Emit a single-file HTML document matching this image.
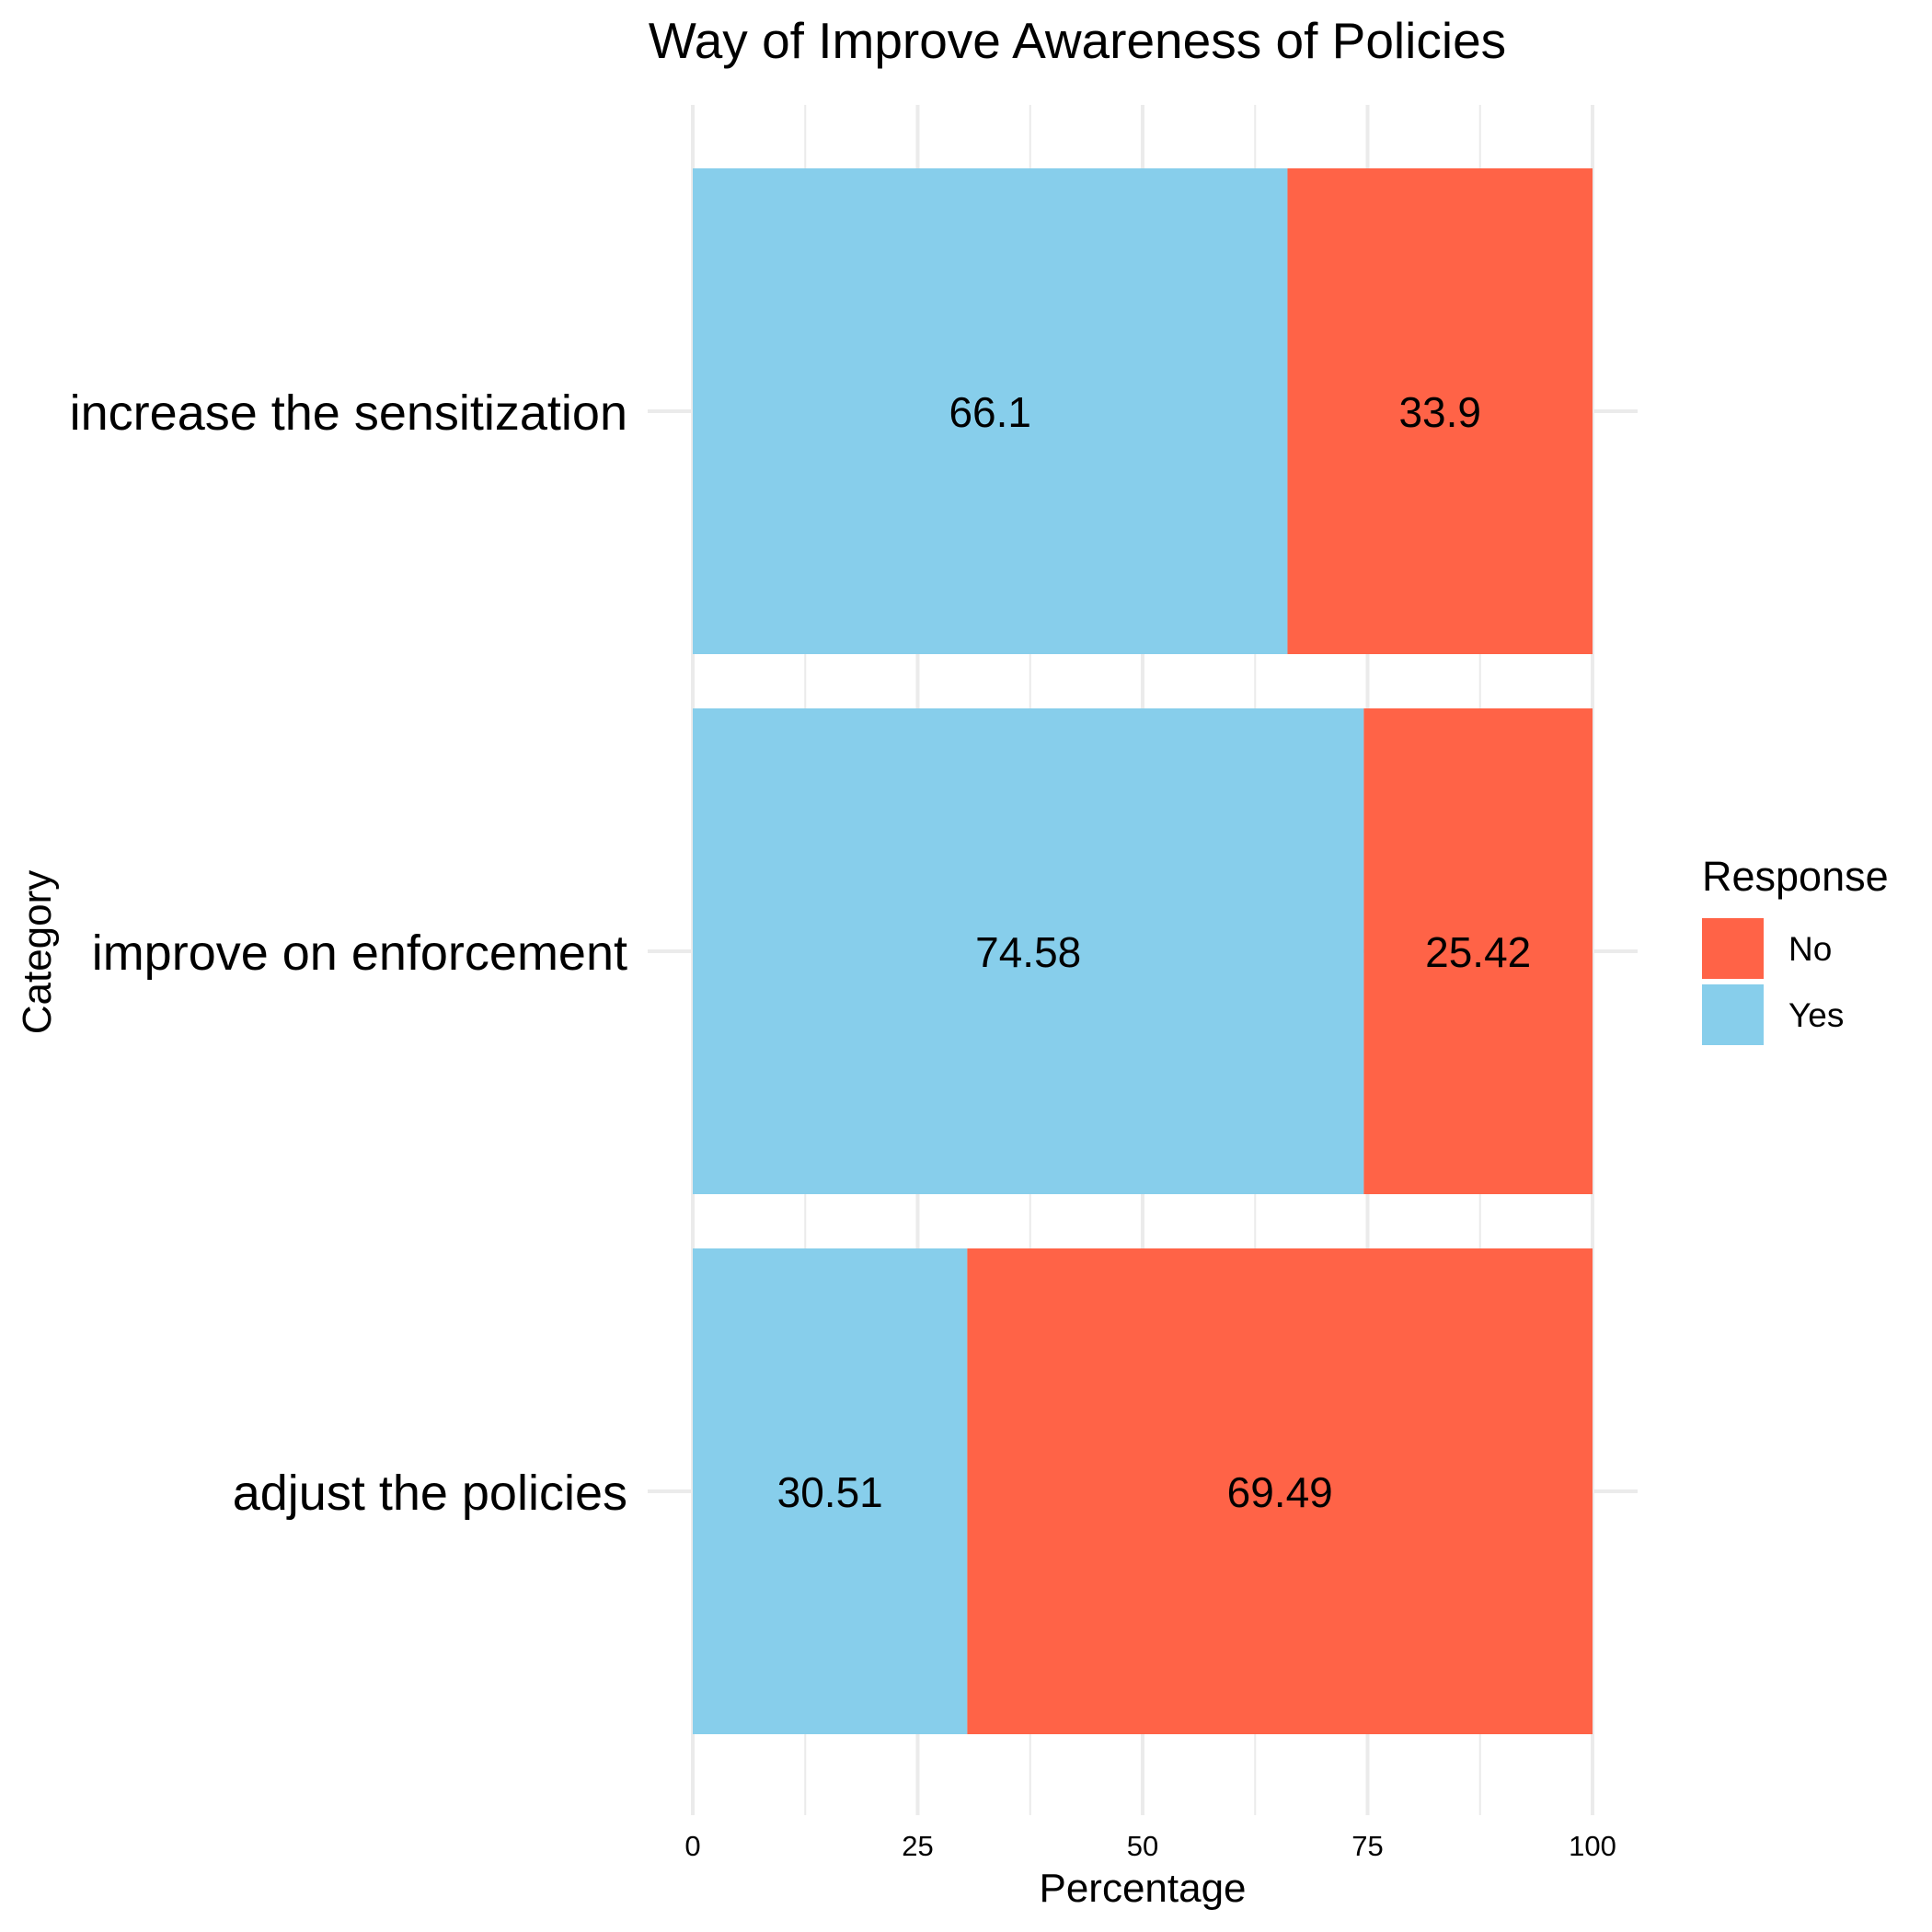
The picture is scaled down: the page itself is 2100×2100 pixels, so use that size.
<!DOCTYPE html>
<html><head><meta charset="utf-8"><style>
html,body{margin:0;padding:0;background:#fff;}
svg{display:block;font-family:"Liberation Sans",Arial,sans-serif;}
</style></head><body>
<svg id="chart" width="2100" height="2100" viewBox="0 0 2100 2100" xmlns="http://www.w3.org/2000/svg">
<rect width="2100" height="2100" fill="#fff"/>
<g id="grid"></g><g id="bars"></g><g id="labels"></g><g id="axes"></g>
<text x="1171" y="63" font-size="55" text-anchor="middle">Way of Improve Awareness of Policies</text>
<text x="1242" y="2067" font-size="44" text-anchor="middle">Percentage</text>
<text transform="translate(55,1035) rotate(-90)" font-size="44" text-anchor="middle">Category</text>
<g>
<text x="1850" y="968" font-size="45">Response</text>
<rect x="1850" y="998" width="67" height="66" fill="#FF6347"/>
<text x="1944" y="1044" font-size="37">No</text>
<rect x="1850" y="1070" width="67" height="66" fill="#87CEEB"/>
<text x="1944" y="1116" font-size="37">Yes</text>
</g>
</svg>
<script>
const categories = ["adjust the policies", "improve on enforcement", "increase the sensitization"];
const yesValues = [30.51, 74.58, 66.1];
const noValues = [69.49, 25.42, 33.9];
const xTicks = [0, 25, 50, 75, 100];

const NS = "http://www.w3.org/2000/svg";
const X0 = 753, XS = 9.78;
const panelL = 704, panelR = 1780, panelT = 114, panelB = 1973;
const step = 587, bottomCenter = 1621, barH = 528;
function xs(v){ return X0 + v * XS; }
function yc(i){ return bottomCenter - i * step; }
function mk(tag, attrs, parent){ const e = document.createElementNS(NS, tag); for (const k in attrs) e.setAttribute(k, attrs[k]); parent.appendChild(e); return e; }

const grid = document.getElementById('grid');
for (let i = 0; i < xTicks.length - 1; i++) {
  const m = (xTicks[i] + xTicks[i+1]) / 2;
  const l = mk('line', {x1: xs(m), x2: xs(m), y1: panelT, y2: panelB, stroke: '#EBEBEB', 'stroke-width': 2}, grid);
  
  
}
xTicks.forEach(t => {
  const l = mk('line', {x1: xs(t), x2: xs(t), y1: panelT, y2: panelB, stroke: '#EBEBEB', 'stroke-width': 4}, grid);
  
  
  const tx = mk('text', {x: xs(t), y: 2017, 'font-size': 31, 'text-anchor': 'middle', fill: '#000'}, document.getElementById('axes'));
  tx.textContent = t;
  
  
});
categories.forEach((c, i) => {
  const l = mk('line', {x1: panelL, x2: panelR, y1: yc(i), y2: yc(i), stroke: '#EBEBEB', 'stroke-width': 4}, grid);
  
  
});

const bars = document.getElementById('bars'), labels = document.getElementById('labels');
categories.forEach((c, i) => {
  const y = yc(i) - barH / 2;
  const y1 = yesValues[i], n1 = noValues[i];
  const by = mk('rect', {x: xs(0), y: y, width: xs(y1) - xs(0), height: barH, fill: '#87CEEB'}, bars);
  
  
  const bn = mk('rect', {x: xs(y1), y: y, width: xs(y1 + n1) - xs(y1), height: barH, fill: '#FF6347'}, bars);
  
  
  const ty = mk('text', {x: xs(y1 / 2), y: yc(i) + 17, 'font-size': 46, 'text-anchor': 'middle'}, labels);
  ty.textContent = y1;
  
  
  const tn = mk('text', {x: xs(y1 + n1 / 2), y: yc(i) + 17, 'font-size': 46, 'text-anchor': 'middle'}, labels);
  tn.textContent = n1;
  
  
  const cl = mk('text', {x: 682, y: yc(i) + 20, 'font-size': 54, 'text-anchor': 'end'}, document.getElementById('axes'));
  cl.textContent = c;
  
  
});
</script>
</body></html>
